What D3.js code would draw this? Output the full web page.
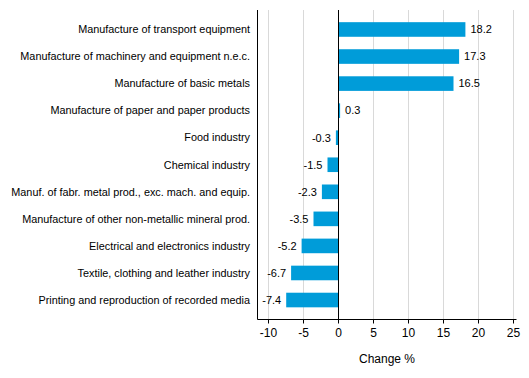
<!DOCTYPE html>
<html><head><meta charset="utf-8">
<script src="https://cdn.jsdelivr.net/npm/d3@7"></script>
<style>body{margin:0;background:#fff}svg{display:block}text{font-family:"Liberation Sans",Arial,sans-serif;font-size:11px;fill:#000}</style>
</head><body>
<script>
const categories = ["Manufacture of transport equipment","Manufacture of machinery and equipment n.e.c.","Manufacture of basic metals","Manufacture of paper and paper products","Food industry","Chemical industry","Manuf. of fabr. metal prod., exc. mach. and equip.","Manufacture of other non-metallic mineral prod.","Electrical and electronics industry","Textile, clothing and leather industry","Printing and reproduction of recorded media"];
const values = [18.2,17.3,16.5,0.3,-0.3,-1.5,-2.3,-3.5,-5.2,-6.7,-7.4];
const tickValues = [-10,-5,0,5,10,15,20,25];
const axisTitle = "Change %";

(function(){
const W=529,H=378;
const svg=d3.select("body").append("svg").attr("width",W).attr("height",H);
const pLeft=257.5,pRight=516.5,pTop=10,pBottom=319.5;
const x=d3.scaleLinear().domain([-11.5,25.5]).range([pLeft,pRight]);
const y=d3.scaleBand().domain(categories).range([pTop,pBottom]).paddingInner(0.46).paddingOuter(0.45);

svg.append("g").selectAll("line").data(tickValues.filter(d=>d!==0)).join("line")
 .attr("x1",d=>Math.round(x(d))+0.5).attr("x2",d=>Math.round(x(d))+0.5)
 .attr("y1",pTop).attr("y2",pBottom).attr("stroke","#d9d9d9").attr("stroke-width",1);

svg.append("g").selectAll("rect").data(values).join("rect")
 .attr("x",d=>x(Math.min(0,d))).attr("width",d=>Math.abs(x(d)-x(0)))
 .attr("y",(d,i)=>y(categories[i])).attr("height",y.bandwidth()).attr("fill","#009cd9");

svg.append("g").selectAll("text").data(values).join("text")
 .attr("x",d=>d>=0?x(d)+5:x(d)-5).attr("y",(d,i)=>y(categories[i])+y.bandwidth()/2)
 .attr("dy","0.35em").attr("text-anchor",d=>d>=0?"start":"end").text(d=>d.toFixed(1));

svg.append("line").attr("x1",Math.round(x(0))+0.5).attr("x2",Math.round(x(0))+0.5)
 .attr("y1",pTop).attr("y2",pBottom).attr("stroke","#000");

svg.append("line").attr("x1",pLeft).attr("x2",pLeft).attr("y1",pTop).attr("y2",pBottom).attr("stroke","#000");

svg.append("g").selectAll("text").data(categories).join("text")
 .attr("x",250).attr("y",d=>y(d)+y.bandwidth()/2).attr("dy","0.35em")
 .attr("text-anchor","end").style("font-size","10.85px").text(d=>d);

const ax=svg.append("g").attr("transform",`translate(0,${pBottom})`)
 .call(d3.axisBottom(x).tickValues(tickValues).tickSize(4).tickPadding(5).tickFormat(d=>String(d)));
ax.attr("font-family",null).attr("font-size",null);
ax.select(".domain").attr("stroke","#000").attr("d",`M${pLeft},0H${pRight}`);
ax.selectAll(".tick line").attr("stroke","#000");
ax.selectAll(".tick text").style("font-size","12px");

svg.append("text").attr("x",(pLeft+pRight)/2).attr("y",363).attr("text-anchor","middle").style("font-size","12px").text(axisTitle);
})();
</script>
</body></html>
